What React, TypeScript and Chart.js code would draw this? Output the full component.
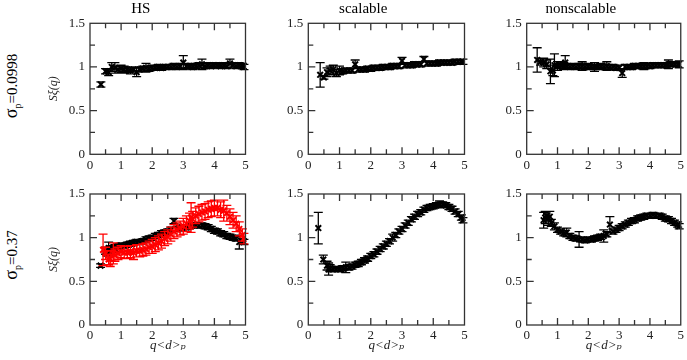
import React, { useEffect, useRef } from "react";
import { Chart, registerables } from "chart.js";
Chart.register(...registerables);
Chart.defaults.font.family = "'Liberation Serif', 'DejaVu Serif', serif";

// ---------- data ----------
const xTickMarks = [0.5, 1, 1.5, 2, 2.5, 3, 3.5, 4, 4.5];
const yTickMarks = [0.25, 0.5, 0.75, 1, 1.25];

// HS, sigma_p = 0.0998
const hsTopQ = [0.35,0.5,0.6,0.7,0.8,0.9,1.0,1.1,1.2,1.3,1.4,1.5,1.6,1.7,1.8,1.9,2.0,2.1,2.2,2.3,2.4,2.5,2.6,2.7,2.8,2.9,3.0,3.1,3.2,3.3,3.4,3.5,3.6,3.7,3.8,3.9,4.0,4.1,4.2,4.3,4.4,4.5,4.6,4.7,4.8,4.9,4.95];
const hsTopS = [0.80,0.95,0.94,1.00,0.99,0.97,0.98,0.97,0.97,0.96,0.97,0.94,0.97,0.98,0.99,0.98,0.99,0.99,1.00,0.99,1.00,1.00,1.00,1.01,1.00,1.01,1.05,1.01,1.01,1.00,1.01,1.02,1.03,1.01,1.02,1.01,1.02,1.02,1.01,1.02,1.01,1.04,1.02,1.01,1.02,1.01,1.00];
const hsTopE = [0.03,0.03,0.04,0.05,0.06,0.04,0.04,0.04,0.03,0.04,0.03,0.05,0.03,0.03,0.05,0.03,0.03,0.03,0.03,0.03,0.03,0.03,0.03,0.03,0.03,0.03,0.08,0.03,0.03,0.03,0.03,0.03,0.06,0.03,0.03,0.03,0.03,0.03,0.03,0.03,0.03,0.05,0.03,0.03,0.03,0.03,0.03];

// scalable, sigma_p = 0.0998
const scTopQ = [0.38,0.5,0.6,0.7,0.8,0.9,1.0,1.1,1.2,1.3,1.4,1.5,1.6,1.7,1.8,1.9,2.0,2.1,2.2,2.3,2.4,2.5,2.6,2.7,2.8,2.9,3.0,3.1,3.2,3.3,3.4,3.5,3.6,3.7,3.8,3.9,4.0,4.1,4.2,4.3,4.4,4.5,4.6,4.7,4.8,4.9,4.95];
const scTopS = [0.91,0.88,0.94,0.96,0.97,0.93,0.96,0.95,0.96,0.96,0.96,1.03,0.97,0.97,0.97,0.98,0.98,0.99,0.99,0.99,1.00,1.00,1.00,1.01,1.01,1.01,1.07,1.02,1.02,1.02,1.03,1.03,1.03,1.09,1.04,1.04,1.04,1.04,1.05,1.05,1.05,1.05,1.05,1.06,1.06,1.06,1.06];
const scTopE = [0.14,0.02,0.05,0.05,0.05,0.04,0.05,0.03,0.03,0.03,0.03,0.05,0.03,0.03,0.03,0.03,0.03,0.03,0.03,0.03,0.03,0.03,0.03,0.03,0.03,0.03,0.04,0.03,0.03,0.03,0.03,0.03,0.03,0.03,0.03,0.03,0.03,0.03,0.03,0.03,0.03,0.03,0.03,0.03,0.03,0.03,0.03];

// nonscalable, sigma_p = 0.0998
const nsTopQ = [0.34,0.45,0.55,0.65,0.77,0.85,0.9,1.0,1.1,1.2,1.25,1.3,1.4,1.5,1.6,1.7,1.8,1.9,2.0,2.1,2.2,2.3,2.4,2.5,2.6,2.7,2.8,2.9,3.0,3.1,3.2,3.3,3.4,3.5,3.6,3.7,3.8,3.9,4.0,4.1,4.2,4.3,4.4,4.5,4.6,4.7,4.8,4.9,4.95];
const nsTopS = [1.08,1.06,1.05,1.03,0.95,0.96,1.02,1.01,1.02,1.01,1.05,1.01,1.00,1.01,1.00,1.01,1.01,1.00,1.01,1.00,1.00,1.00,1.01,1.00,1.01,1.00,1.00,0.99,0.99,0.93,1.00,1.00,1.00,1.01,1.01,1.01,1.01,1.01,1.01,1.02,1.02,1.02,1.02,1.02,1.03,1.03,1.03,1.03,1.03];
const nsTopE = [0.14,0.04,0.05,0.05,0.14,0.06,0.13,0.05,0.04,0.04,0.08,0.03,0.03,0.03,0.03,0.03,0.05,0.03,0.03,0.03,0.05,0.03,0.03,0.03,0.05,0.03,0.03,0.03,0.03,0.05,0.03,0.03,0.03,0.03,0.03,0.03,0.04,0.03,0.03,0.03,0.03,0.03,0.03,0.03,0.05,0.03,0.03,0.03,0.04];

// HS, sigma_p = 0.37 (black)
const hsBotQ = [0.34,0.5,0.55,0.6,0.65,0.7,0.8,0.9,1.0,1.1,1.2,1.3,1.4,1.5,1.6,1.7,1.8,1.9,2.0,2.1,2.2,2.3,2.4,2.5,2.6,2.7,2.8,2.9,3.0,3.1,3.2,3.3,3.4,3.5,3.6,3.7,3.8,3.9,4.0,4.1,4.2,4.3,4.4,4.5,4.6,4.7,4.8,4.9,4.95];
const hsBotS = [0.68,0.85,0.84,0.88,0.85,0.87,0.88,0.90,0.91,0.91,0.92,0.93,0.94,0.95,0.95,0.96,0.98,0.99,1.00,1.02,1.03,1.05,1.06,1.07,1.09,1.19,1.10,1.11,1.12,1.12,1.13,1.14,1.14,1.14,1.14,1.13,1.12,1.10,1.08,1.07,1.05,1.04,1.02,1.01,1.00,0.99,0.95,0.96,0.95];
const hsBotE = [0.02,0.04,0.05,0.07,0.05,0.04,0.04,0.03,0.03,0.03,0.03,0.03,0.03,0.03,0.03,0.03,0.03,0.03,0.03,0.03,0.03,0.03,0.03,0.03,0.03,0.03,0.03,0.03,0.03,0.03,0.03,0.03,0.03,0.03,0.03,0.03,0.03,0.03,0.03,0.03,0.03,0.03,0.03,0.03,0.03,0.03,0.08,0.03,0.03];

// HS, sigma_p = 0.37 (red)
const hsRedQ = [0.42,0.5,0.6,0.65,0.75,0.8,0.9,1.0,1.1,1.2,1.3,1.4,1.5,1.6,1.7,1.8,1.9,2.0,2.1,2.2,2.3,2.4,2.5,2.6,2.7,2.8,2.9,3.0,3.1,3.2,3.25,3.3,3.4,3.5,3.6,3.7,3.8,3.9,4.0,4.1,4.2,4.3,4.4,4.5,4.6,4.7,4.8,4.9,4.95];
const hsRedS = [0.86,0.82,0.75,0.76,0.82,0.80,0.82,0.84,0.83,0.83,0.84,0.83,0.85,0.85,0.86,0.87,0.89,0.90,0.92,0.94,0.96,0.99,1.01,1.04,1.07,1.09,1.11,1.13,1.16,1.19,1.23,1.21,1.25,1.27,1.29,1.30,1.32,1.33,1.34,1.34,1.32,1.31,1.28,1.24,1.20,1.16,1.10,1.03,0.99];
const hsRedE = [0.18,0.07,0.06,0.09,0.12,0.07,0.07,0.07,0.07,0.07,0.07,0.08,0.07,0.07,0.07,0.07,0.07,0.08,0.08,0.08,0.08,0.08,0.08,0.08,0.08,0.08,0.08,0.09,0.09,0.09,0.17,0.09,0.09,0.09,0.09,0.09,0.09,0.09,0.09,0.09,0.09,0.12,0.09,0.09,0.09,0.09,0.08,0.07,0.06];

// scalable, sigma_p = 0.37
const scBotQ = [0.32,0.48,0.6,0.65,0.7,0.8,0.9,1.0,1.1,1.2,1.3,1.4,1.5,1.6,1.7,1.8,1.9,2.0,2.1,2.2,2.3,2.4,2.5,2.6,2.7,2.8,2.9,3.0,3.1,3.2,3.3,3.4,3.5,3.6,3.7,3.8,3.9,4.0,4.1,4.2,4.3,4.4,4.5,4.6,4.7,4.8,4.9,4.95];
const scBotS = [1.11,0.75,0.68,0.64,0.65,0.64,0.64,0.64,0.65,0.66,0.66,0.67,0.69,0.70,0.72,0.74,0.76,0.79,0.81,0.84,0.87,0.90,0.93,0.96,1.00,1.03,1.07,1.10,1.14,1.17,1.21,1.24,1.27,1.29,1.32,1.34,1.35,1.36,1.37,1.38,1.38,1.37,1.35,1.33,1.30,1.27,1.23,1.20];
const scBotE = [0.18,0.05,0.05,0.07,0.04,0.03,0.03,0.03,0.03,0.06,0.03,0.03,0.03,0.03,0.03,0.03,0.03,0.03,0.03,0.03,0.03,0.03,0.03,0.03,0.04,0.03,0.03,0.03,0.03,0.03,0.03,0.03,0.03,0.03,0.03,0.03,0.03,0.03,0.03,0.04,0.03,0.03,0.03,0.03,0.03,0.03,0.03,0.03];

// nonscalable, sigma_p = 0.37
const nsBotQ = [0.55,0.6,0.65,0.7,0.75,0.8,0.9,1.0,1.1,1.2,1.3,1.4,1.5,1.6,1.7,1.8,1.9,2.0,2.1,2.2,2.3,2.4,2.5,2.6,2.7,2.8,2.9,3.0,3.1,3.2,3.3,3.4,3.5,3.6,3.7,3.8,3.9,4.0,4.1,4.2,4.3,4.4,4.5,4.6,4.7,4.8,4.9,4.95];
const nsBotS = [1.20,1.23,1.25,1.22,1.24,1.17,1.13,1.09,1.07,1.05,1.06,1.02,1.00,0.99,0.98,0.98,0.97,0.98,0.98,0.99,1.00,1.01,1.02,1.04,1.15,1.07,1.09,1.11,1.13,1.15,1.17,1.19,1.20,1.22,1.23,1.24,1.25,1.25,1.26,1.25,1.25,1.24,1.22,1.21,1.19,1.17,1.15,1.13];
const nsBotE = [0.09,0.07,0.05,0.08,0.06,0.04,0.04,0.03,0.03,0.03,0.05,0.03,0.03,0.03,0.09,0.03,0.03,0.03,0.03,0.03,0.03,0.03,0.07,0.03,0.09,0.03,0.03,0.03,0.03,0.03,0.03,0.03,0.03,0.03,0.03,0.03,0.03,0.03,0.03,0.03,0.03,0.03,0.03,0.03,0.03,0.03,0.03,0.03];

// ---------- plugins ----------
const errorBarPlugin = {
  id: "errorBars",
  beforeDatasetDraw(chart: any, args: any) {
    const ds: any = chart.data.datasets[args.index];
    const errs: number[] = ds.errors;
    if (!errs) return;
    const ctx = chart.ctx;
    const xs = chart.scales.x, ys = chart.scales.y;
    ctx.save();
    ctx.strokeStyle = ds.borderColor;
    ctx.lineWidth = 1.3;
    ctx.beginPath();
    ds.data.forEach((p: any, i: number) => {
      const x = xs.getPixelForValue(p.x);
      const y1 = ys.getPixelForValue(p.y - errs[i]);
      const y2 = ys.getPixelForValue(p.y + errs[i]);
      ctx.moveTo(x, y1); ctx.lineTo(x, y2);
      ctx.moveTo(x - 4.5, y1); ctx.lineTo(x + 4.5, y1);
      ctx.moveTo(x - 4.5, y2); ctx.lineTo(x + 4.5, y2);
    });
    ctx.stroke();
    ctx.restore();
  },
};

const frameTicksPlugin = {
  id: "frameTicks",
  afterDraw(chart: any) {
    const { ctx, chartArea: a } = chart;
    const xs = chart.scales.x, ys = chart.scales.y;
    ctx.save();
    ctx.strokeStyle = "#333";
    ctx.lineWidth = 1.3;
    ctx.strokeRect(a.left, a.top, a.right - a.left, a.bottom - a.top);
    ctx.beginPath();
    xTickMarks.forEach((v) => {
      const px = xs.getPixelForValue(v);
      const len = Number.isInteger(v) ? 7 : 5;
      ctx.moveTo(px, a.bottom); ctx.lineTo(px, a.bottom - len);
      ctx.moveTo(px, a.top); ctx.lineTo(px, a.top + len);
    });
    yTickMarks.forEach((v) => {
      const py = ys.getPixelForValue(v);
      const len = Math.abs(v * 2 - Math.round(v * 2)) < 1e-6 ? 7 : 5;
      ctx.moveTo(a.left, py); ctx.lineTo(a.left + len, py);
    });
    ctx.stroke();
    ctx.restore();
  },
};

type S = { q: number[]; s: number[]; e: number[]; color: string; order: number };

type PanelProps = {
  left: number; top: number; width: number; height: number;
  yWidth: number; xHeight: number; padTop: number; padRight: number;
  title?: string; yTitle?: boolean; xTitle?: boolean; series: S[];
};

const tickFont = { size: 13, family: "'Liberation Serif', 'DejaVu Serif', serif" };
const fmt = (v: any) => String(Math.round(Number(v) * 100) / 100);

function Panel(p: PanelProps) {
  const ref = useRef<HTMLCanvasElement>(null);
  useEffect(() => {
    const chart = new Chart(ref.current as HTMLCanvasElement, {
      type: "scatter",
      data: {
        datasets: p.series.map((s) => ({
          data: s.q.map((q, i) => ({ x: q, y: s.s[i] })),
          errors: s.e,
          borderColor: s.color,
          backgroundColor: s.color,
          pointStyle: "crossRot",
          pointRadius: 4,
          pointBorderWidth: 2,
          showLine: false,
          order: s.order,
        })) as any,
      },
      options: {
        animation: false,
        responsive: false,
        devicePixelRatio: 1,
        events: [],
        layout: { padding: { top: p.padTop, right: p.padRight, left: 0, bottom: 0 } },
        plugins: {
          legend: { display: false },
          tooltip: { enabled: false },
          title: p.title
            ? { display: true, text: p.title, color: "#000", font: { size: 15, weight: "normal" }, padding: { top: 0, bottom: 5.3 } }
            : { display: false },
        },
        scales: {
          x: {
            type: "linear", min: 0, max: 5,
            ticks: { stepSize: 1, padding: 3, color: "#222", font: tickFont, maxRotation: 0, callback: fmt },
            grid: { display: false, drawTicks: false, tickLength: 0 }, border: { display: false },
            title: p.xTitle
              ? { display: true, text: "q<d>ₚ", color: "#222", font: { size: 13, style: "italic" }, padding: { top: 0, bottom: 6.7 } }
              : { display: false },
            afterFit: (sc: any) => { sc.height = p.xHeight; },
          },
          y: {
            type: "linear", min: 0, max: 1.5,
            ticks: { stepSize: 0.5, padding: 5, color: "#222", font: tickFont, callback: fmt },
            grid: { display: false, drawTicks: false, tickLength: 0 }, border: { display: false },
            title: p.yTitle
              ? { display: true, text: "Sξ(q)", color: "#222", font: { size: 12, style: "italic" }, padding: { top: 11, bottom: 0 } }
              : { display: false },
            afterFit: (sc: any) => { sc.width = p.yWidth; },
          },
        },
      } as any,
      plugins: [errorBarPlugin, frameTicksPlugin],
    });
    return () => chart.destroy();
  }, []);
  return (
    <canvas
      ref={ref}
      width={p.width}
      height={p.height}
      style={{ position: "absolute", left: p.left, top: p.top, width: p.width, height: p.height }}
    />
  );
}

const cols = [
  { left: 36, width: 220, yWidth: 54, padRight: 10.5 },
  { left: 262, width: 214, yWidth: 46.3, padRight: 11.5 },
  { left: 480, width: 207, yWidth: 46.7, padRight: 5.3 },
];
const rows = [
  { top: 0, height: 178, xHeight: 23.7, padTop: 0 },
  { top: 180, height: 180, xHeight: 35, padTop: 14 },
];

const titles = ["HS", "scalable", "nonscalable"];
const K = "#000";
const R = "#ff0000";
const panelSeries: S[][][] = [
  [
    [{ q: hsTopQ, s: hsTopS, e: hsTopE, color: K, order: 1 }],
    [{ q: scTopQ, s: scTopS, e: scTopE, color: K, order: 1 }],
    [{ q: nsTopQ, s: nsTopS, e: nsTopE, color: K, order: 1 }],
  ],
  [
    [
      { q: hsBotQ, s: hsBotS, e: hsBotE, color: K, order: 1 },
      { q: hsRedQ, s: hsRedS, e: hsRedE, color: R, order: 0 },
    ],
    [{ q: scBotQ, s: scBotS, e: scBotE, color: K, order: 1 }],
    [{ q: nsBotQ, s: nsBotS, e: nsBotE, color: K, order: 1 }],
  ],
];

const rowLabelStyle = (cy: number): React.CSSProperties => ({
  position: "absolute",
  left: 12,
  top: cy,
  transform: "translate(-50%, -50%) rotate(-90deg)",
  whiteSpace: "nowrap",
  fontFamily: "'Liberation Serif', 'DejaVu Serif', serif",
  fontSize: 15,
  color: "#000",
});

export default function App() {
  return (
    <div style={{ position: "fixed", left: 0, top: 0, width: 687, height: 360, background: "#fff", overflow: "hidden" }}>
      <div style={rowLabelStyle(86)}>
        <span style={{ fontSize: 18 }}>σ</span><sub style={{ fontSize: 10 }}>p</sub>=0.0998
      </div>
      <div style={rowLabelStyle(255)}>
        <span style={{ fontSize: 18 }}>σ</span><sub style={{ fontSize: 10 }}>p</sub>=0.37
      </div>
      {rows.map((r, ri) =>
        cols.map((c, ci) => (
          <Panel
            key={`${ri}-${ci}`}
            left={c.left}
            top={r.top}
            width={c.width}
            height={r.height}
            yWidth={c.yWidth}
            xHeight={r.xHeight}
            padTop={r.padTop}
            padRight={c.padRight}
            title={ri === 0 ? titles[ci] : undefined}
            yTitle={ci === 0}
            xTitle={ri === 1}
            series={panelSeries[ri][ci]}
          />
        ))
      )}
    </div>
  );
}
